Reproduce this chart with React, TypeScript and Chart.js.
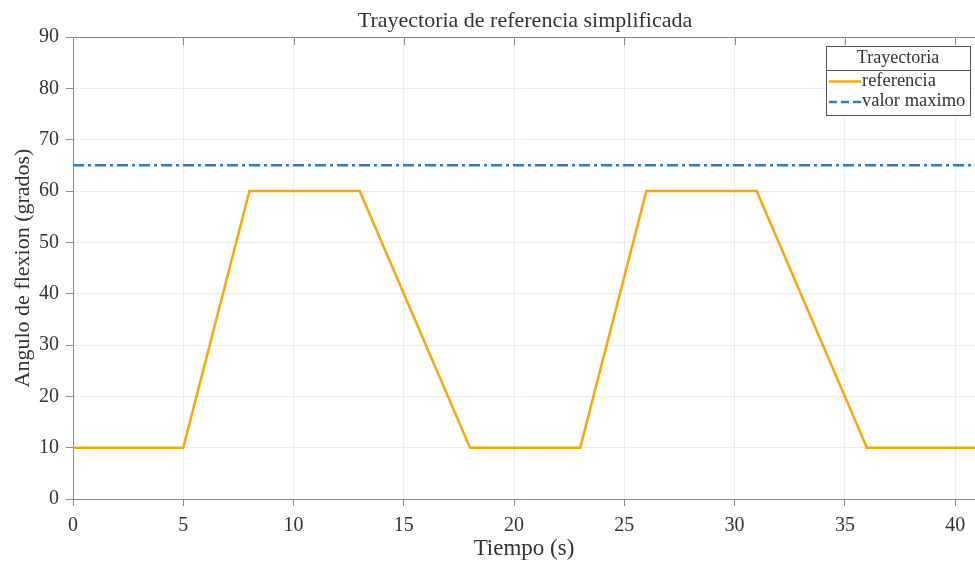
import React, { useEffect, useRef } from "react";
import { Chart, registerables } from "chart.js";
Chart.register(...registerables);

const chartTitle = "Trayectoria de referencia simplificada";
const xTitle = "Tiempo (s)";
const yTitle = "Angulo de flexion (grados)";
const legendTitle = "Trayectoria";
const refLabel = "referencia";
const maxLabel = "valor maximo";

const timeValues = [0, 5, 8, 13, 18, 23, 26, 31, 36, 41];
const refValues = [10, 10, 60, 60, 10, 10, 60, 60, 10, 10];
const maxValueTimes = [0, 41];
const maxValue = 65;
const xTicks = [0, 5, 10, 15, 20, 25, 30, 35, 40];
const yTicks = [0, 10, 20, 30, 40, 50, 60, 70, 80, 90];

const FONT = "'Liberation Serif', 'DejaVu Serif', serif";
const ORANGE = "#F5A80C";
const BLUE = "#2F7DC0";
const AXIS = "#8a8a8a";
const TEXT = "#333333";

export default function App() {
  const ref = useRef<HTMLCanvasElement | null>(null);
  useEffect(() => {
    document.body.style.margin = "0";
    const canvas = ref.current!;
    const overlay = {
      id: "overlay",
      afterDraw(chart: any) {
        const ctx = chart.ctx as CanvasRenderingContext2D;
        const a = chart.chartArea;
        const xs = chart.scales.x;
        ctx.save();
        // top border and inward ticks
        ctx.strokeStyle = AXIS;
        ctx.lineWidth = 1;
        ctx.beginPath();
        ctx.moveTo(a.left, a.top + 0.5);
        ctx.lineTo(a.right, a.top + 0.5);
        for (const t of xTicks) {
          const px = Math.round(xs.getPixelForValue(t)) + 0.5;
          ctx.moveTo(px, a.top);
          ctx.lineTo(px, a.top + 8);
        }
        ctx.stroke();
        // title
        ctx.fillStyle = TEXT;
        ctx.font = `22px ${FONT}`;
        ctx.textAlign = "center";
        ctx.textBaseline = "alphabetic";
        ctx.fillText(chartTitle, 525, 27);
        // x axis title
        ctx.font = `23px ${FONT}`;
        ctx.fillText(xTitle, (a.left + a.right) / 2, 555);
        // legend
        const lx = 826, ly = 46, lw = 144, lh = 69;
        ctx.fillStyle = "#ffffff";
        ctx.fillRect(lx, ly, lw, lh);
        ctx.strokeStyle = "#555";
        ctx.strokeRect(lx + 0.5, ly + 0.5, lw, lh);
        ctx.beginPath();
        ctx.moveTo(lx, ly + 24.5);
        ctx.lineTo(lx + lw, ly + 24.5);
        ctx.stroke();
        ctx.fillStyle = TEXT;
        ctx.font = `18px ${FONT}`;
        ctx.textAlign = "center";
        ctx.textBaseline = "middle";
        ctx.fillText(legendTitle, lx + lw / 2, ly + 12);
        ctx.textAlign = "left";
        ctx.font = `18.5px ${FONT}`;
        ctx.lineWidth = 2.5;
        ctx.strokeStyle = ORANGE;
        ctx.beginPath();
        ctx.moveTo(lx + 3, ly + 35.5);
        ctx.lineTo(lx + 35, ly + 35.5);
        ctx.stroke();
        ctx.fillText(refLabel, lx + 36, ly + 35);
        ctx.strokeStyle = BLUE;
        ctx.setLineDash([8, 4]);
        ctx.beginPath();
        ctx.moveTo(lx + 3, ly + 56);
        ctx.lineTo(lx + 35, ly + 56);
        ctx.stroke();
        ctx.setLineDash([]);
        ctx.fillText(maxLabel, lx + 36, ly + 55);
        ctx.restore();
      },
    };
    const chart = new Chart(canvas, {
      type: "line",
      data: {
        datasets: [
          {
            label: refLabel,
            data: timeValues.map((t, i) => ({ x: t, y: refValues[i] })),
            borderColor: ORANGE,
            borderWidth: 2.5,
            pointRadius: 0,
            tension: 0,
          },
          {
            label: maxLabel,
            data: maxValueTimes.map((t) => ({ x: t, y: maxValue })),
            borderColor: BLUE,
            borderWidth: 2.5,
            borderDash: [11, 4, 3, 4],
            pointRadius: 0,
          },
        ],
      },
      options: {
        animation: false,
        responsive: false,
        layout: { padding: { top: 37, right: 0, left: 0, bottom: 0 } },
        plugins: { legend: { display: false }, tooltip: { enabled: false }, title: { display: false } },
        scales: {
          x: {
            type: "linear",
            min: 0,
            max: 40.9,
            afterBuildTicks: (s: any) => {
              s.ticks = xTicks.map((v) => ({ value: v }));
            },
            afterFit: (s: any) => {
              s.height = 62;
            },
            grid: { color: "#ebebeb", tickColor: AXIS, tickLength: 7, drawTicks: true },
            border: { color: AXIS },
            ticks: { color: TEXT, font: { family: FONT, size: 20 }, padding: 8, maxRotation: 0 },
            title: { display: false },
          },
          y: {
            type: "linear",
            min: 0,
            max: 90,
            afterBuildTicks: (s: any) => {
              s.ticks = yTicks.map((v) => ({ value: v }));
            },
            afterFit: (s: any) => {
              s.width = 73;
            },
            grid: { color: "#ebebeb", tickColor: AXIS, tickLength: 7 },
            border: { color: AXIS },
            ticks: { color: TEXT, font: { family: FONT, size: 20 }, padding: 7 },
            title: { display: true, text: yTitle, color: TEXT, font: { family: FONT, size: 22 }, padding: { top: 10, bottom: 0 } },
          },
        },
      },
      plugins: [overlay],
    });
    return () => chart.destroy();
  }, []);
  return (
    <div style={{ position: "relative", width: 975, height: 561, background: "#fff" }}>
      <canvas ref={ref} width={975} height={561} style={{ display: "block" }} />
    </div>
  );
}
